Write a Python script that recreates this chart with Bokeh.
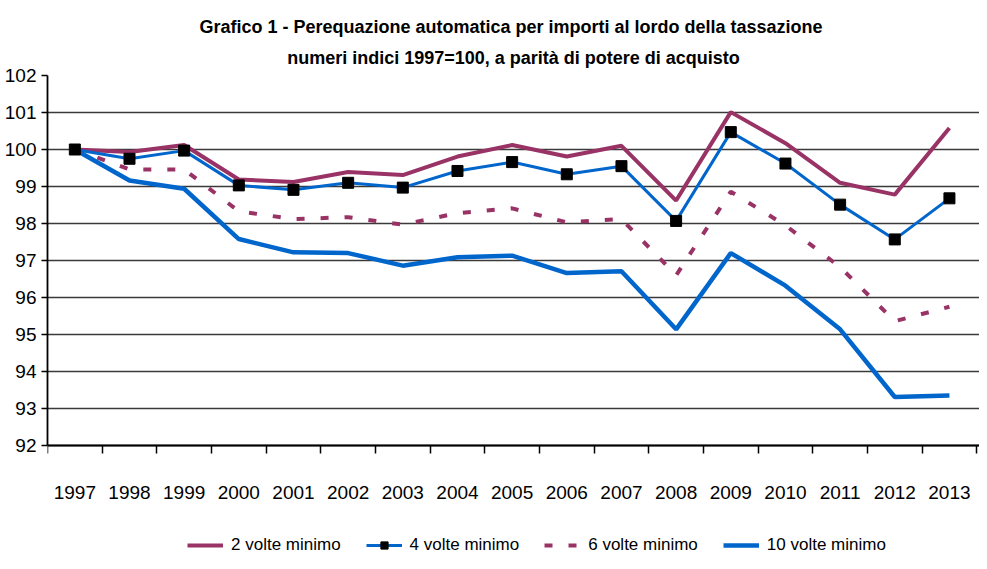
from bokeh.plotting import figure
from bokeh.models import Range1d, FixedTicker, Legend, LegendItem, Title
from bokeh.embed import file_html
from bokeh.resources import INLINE

FONT = "Liberation Sans"

years = ["1997", "1998", "1999", "2000", "2001", "2002", "2003", "2004", "2005",
         "2006", "2007", "2008", "2009", "2010", "2011", "2012", "2013"]
volte2 = [100.0, 99.93, 100.12, 99.19, 99.12, 99.39, 99.31, 99.81, 100.12,
          99.81, 100.1, 98.62, 101.01, 100.17, 99.1, 98.78, 100.58]
volte4 = [100.0, 99.75, 99.97, 99.03, 98.91, 99.1, 98.97, 99.42, 99.66,
          99.33, 99.55, 98.07, 100.47, 99.62, 98.51, 97.57, 98.68]
volte6 = [100.0, 99.46, 99.46, 98.33, 98.12, 98.17, 97.97, 98.28, 98.41,
          98.03, 98.12, 96.6, 98.86, 97.95, 96.82, 95.36, 95.75]
volte10 = [100.0, 99.16, 98.94, 97.58, 97.22, 97.2, 96.86, 97.09, 97.13,
           96.66, 96.71, 95.14, 97.2, 96.32, 95.14, 93.31, 93.35]
y_ticks = [92, 93, 94, 95, 96, 97, 98, 99, 100, 101, 102]
labels = ["2 volte minimo", "4 volte minimo", "6 volte minimo", "10 volte minimo"]
title_lines = ["Grafico 1 - Perequazione automatica per  importi al lordo della tassazione",
               "numeri indici 1997=100, a parità di potere di acquisto"]

x = list(range(len(years)))

W, H = 979, 553
TOP, LEFT = 75, 47
frame_h = H - TOP            # frame runs down to the bottom of the canvas
px_per_unit = 37.0           # 92..102 spans 370 px as in the reference
y_start = y_ticks[-1] - frame_h / px_per_unit

p = figure(width=W, height=H, output_backend="svg", toolbar_location=None,
           x_range=Range1d(-0.5, 16.55), y_range=Range1d(y_start, y_ticks[-1]),
           min_border_left=LEFT, min_border_right=0, min_border_top=TOP,
           min_border_bottom=0)
p.outline_line_color = None
p.background_fill_color = "white"

t2 = Title(text=title_lines[1], align="center", text_font=FONT, text_font_size="18px",
           text_font_style="bold", text_color="black", offset=-10, standoff=16)
t1 = Title(text=title_lines[0], align="center", text_font=FONT, text_font_size="18px",
           text_font_style="bold", text_color="black", offset=-10, standoff=2)
p.add_layout(t2, "above")
p.add_layout(t1, "above")

p.xgrid.visible = False
p.ygrid.grid_line_color = "#3a3a3a"
p.ygrid.grid_line_width = 1.3

xa = p.xaxis[0]
xa.fixed_location = y_ticks[0]
xa.ticker = FixedTicker(ticks=x, minor_ticks=[i - 0.5 for i in range(len(years) + 1)])
xa.major_label_overrides = {i: y for i, y in enumerate(years)}
xa.major_tick_line_color = None
xa.major_tick_out = 0
xa.major_tick_in = 0
xa.minor_tick_out = 8
xa.minor_tick_in = 0
xa.minor_tick_line_color = "black"
xa.minor_tick_line_width = 1.5
xa.major_label_standoff = 32

ya = p.yaxis[0]
ya.ticker = FixedTicker(ticks=y_ticks)
ya.bounds = (y_ticks[0], y_ticks[-1])
ya.major_tick_out = 6
ya.major_tick_in = 0
ya.minor_tick_line_color = None
ya.major_tick_line_width = 1.5
ya.major_label_standoff = 5

for ax in (xa, ya):
    ax.axis_line_color = "black"
    ax.axis_line_width = 1.8
    ax.major_label_text_font = FONT
    ax.major_label_text_font_size = "19px"
    ax.major_label_text_color = "black"

PURPLE = "#993366"
BLUE = "#0066CC"

r1 = p.line(x, volte2, line_color=PURPLE, line_width=4)
r4 = p.line(x, volte10, line_color=BLUE, line_width=4.5)
r3 = p.line(x, volte6, line_color=PURPLE, line_width=4, line_dash="8 16", line_cap="butt")
r2 = p.line(x, volte4, line_color=BLUE, line_width=3)
r2s = p.scatter(x, volte4, marker="square", size=11, fill_color="black", line_color="black")

legend = Legend(items=[LegendItem(label=labels[0], renderers=[r1]),
                       LegendItem(label=labels[1], renderers=[r2, r2s]),
                       LegendItem(label=labels[2], renderers=[r3]),
                       LegendItem(label=labels[3], renderers=[r4])],
                orientation="horizontal", location=(140, -2),
                label_text_font=FONT, label_text_font_size="17px",
                label_text_color="black",
                glyph_width=36, glyph_height=18, label_standoff=8, spacing=25,
                padding=2, margin=0, border_line_color=None, background_fill_alpha=0)
p.add_layout(legend)

open("out.html", "w").write(file_html(p, INLINE))
